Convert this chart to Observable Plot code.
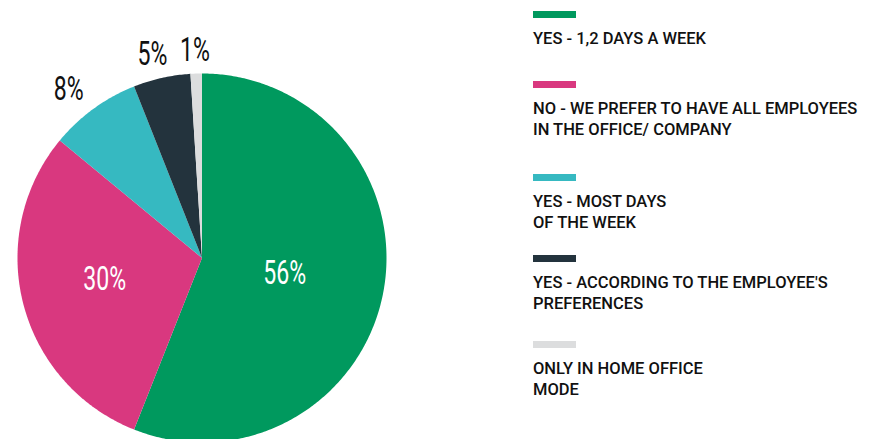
<!DOCTYPE html>
<html>
<head>
<meta charset="utf-8">
<script src="https://cdn.jsdelivr.net/npm/d3@7"></script>
<script src="https://cdn.jsdelivr.net/npm/@observablehq/plot@0.6"></script>
<style>
  html, body { margin: 0; padding: 0; background: #fff; }
  #wrap { position: relative; width: 874px; height: 439px; overflow: hidden; }
  #legend { position: absolute; left: 533px; top: 0; font-family: Roboto, "Noto Sans", sans-serif; font-weight: 500; font-size: 16.5px; color: #111; }
  .item { position: absolute; left: 0; white-space: pre; line-height: 21px; }
  .swatch { width: 43px; height: 7px; }
  .txt { margin-top: 10px; }
</style>
</head>
<body>
<div id="wrap"><div id="legend"></div></div>
<script>
const categories = [
  "YES - 1,2 DAYS A WEEK",
  "NO - WE PREFER TO HAVE ALL EMPLOYEES\nIN THE OFFICE/ COMPANY",
  "YES - MOST DAYS\nOF THE WEEK",
  "YES - ACCORDING TO THE EMPLOYEE'S\nPREFERENCES",
  "ONLY IN HOME OFFICE\nMODE"
];
const values = [56, 30, 8, 5, 1];
const labels = ["56%", "30%", "8%", "5%", "1%"];
const colors = ["#00995e", "#d9387f", "#36b9c1", "#23333d", "#dcddde"];

const W = 874, H = 439, cx = 201.5, cy = 257.5, R = 184.5;
const total = d3.sum(values);

// wedge polygons in unit-radius data space
const wedges = [];
const labelData = [];
let cum = 0;
values.forEach((v, i) => {
  const a0 = cum / total * 2 * Math.PI;
  cum += v;
  const a1 = cum / total * 2 * Math.PI;
  wedges.push({cat: categories[i], x: 0, y: 0});
  const n = Math.max(2, Math.ceil((a1 - a0) / 0.01));
  for (let k = 0; k <= n; k++) {
    const a = a0 + (a1 - a0) * k / n;
    wedges.push({cat: categories[i], x: Math.sin(a), y: Math.cos(a)});
  }
  wedges.push({cat: categories[i], x: 0, y: 0});
  const am = (a0 + a1) / 2;
  const inside = v >= 10;
  const r = inside ? 0.5 : 1.13;
  const rx = inside ? r : r + 0.1;
  labelData.push({label: labels[i], x: rx * Math.sin(am), y: r * Math.cos(am), inside});
});

const pctFont = "Roboto, 'DejaVu Sans', sans-serif";
const chart = Plot.plot({
  width: W, height: H,
  margin: 0,
  x: {domain: [-cx / R, (W - cx) / R], axis: null},
  y: {domain: [-(H - cy) / R, cy / R], axis: null},
  color: {domain: categories, range: colors},
  marks: [
    Plot.line(wedges, {x: "x", y: "y", z: "cat", fill: "cat", stroke: null, curve: "linear"}),
    Plot.text(labelData.filter(d => d.inside), {x: "x", y: "y", text: "label", dx: -8, dy: -2, fill: "white", fontSize: 34, fontWeight: 400, fontFamily: pctFont, textAnchor: "middle", lineAnchor: "middle", className: "pct"}),
    Plot.text(labelData.filter(d => !d.inside), {x: "x", y: "y", text: "label", fill: "#111", fontSize: 34, fontWeight: 400, fontFamily: pctFont, textAnchor: "middle", lineAnchor: "middle", className: "pct"})
  ]
});
document.getElementById("wrap").prepend(chart);
chart.style.position = "absolute";
chart.style.left = "0";
chart.style.top = "0";

// condense the percentage glyphs horizontally around their anchor
d3.select(chart).selectAll("g.pct text, .pct text").each(function() {
  const t = d3.select(this);
  const tr = t.attr("transform");
  if (tr) {
    t.attr("transform", tr + " scale(0.68,1)");
  } else {
    const x = +t.attr("x") || 0, y = +t.attr("y") || 0;
    t.attr("x", null).attr("y", null).attr("transform", `translate(${x},${y}) scale(0.68,1)`);
  }
});

// legend
const tops = [11, 81, 174, 255, 341];
const legend = d3.select("#legend");
categories.forEach((c, i) => {
  const it = legend.append("div").attr("class", "item").style("top", tops[i] + "px");
  it.append("div").attr("class", "swatch").style("background", colors[i]);
  it.append("div").attr("class", "txt").text(c);
});
</script>
</body>
</html>
